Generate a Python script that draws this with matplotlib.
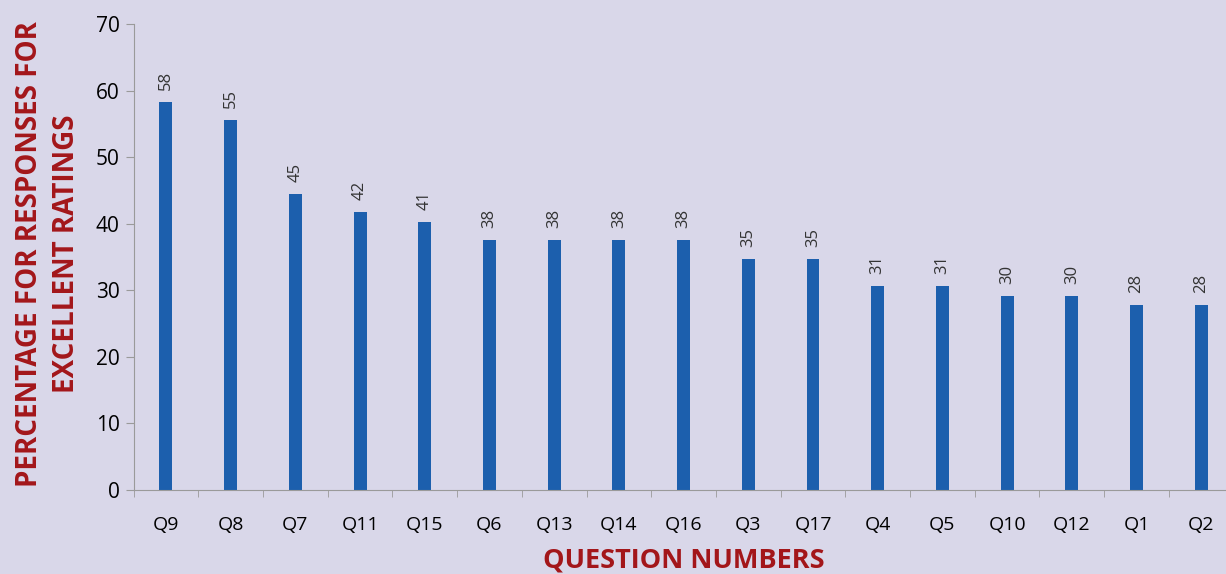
import numpy as np
import matplotlib.pyplot as plt

plt.rcParams["font.family"] = ["Open Sans", "DejaVu Sans"]

questions = ["Q9", "Q8", "Q7", "Q11", "Q15", "Q6", "Q13", "Q14", "Q16",
             "Q3", "Q17", "Q4", "Q5", "Q10", "Q12", "Q1", "Q2"]
percent = [58.3, 55.6, 44.4, 41.7, 40.3, 37.5, 37.5, 37.5, 37.5,
           34.7, 34.7, 30.6, 30.6, 29.2, 29.2, 27.8, 27.8]
labels = ["58", "55", "45", "42", "41", "38", "38", "38", "38",
          "35", "35", "31", "31", "30", "30", "28", "28"]

bg = "#d9d7e9"
red = "#a3161a"

fig = plt.figure(figsize=(12.26, 5.74), dpi=100, facecolor=bg)
ax = fig.add_axes([133.6/1226, 1-490/574, 1100/1226, 466/574])
ax.set_facecolor(bg)

x = np.arange(len(questions))
ax.bar(x, percent, width=0.2, color="#1c5fad")
for xi, v, lab in zip(x, percent, labels):
    ax.text(xi, v + 1.8, lab, rotation=90, ha="center", va="bottom",
            fontsize=12, color="#333333")

ax.set_xlim(-0.5, len(questions) - 0.5)
ax.set_ylim(0, 70)
ax.set_yticks(range(0, 71, 10))
ax.set_xticks(x)
ax.set_xticklabels(questions)
ax.set_xticks(np.arange(-0.5, len(questions), 1), minor=True)
ax.tick_params(axis="x", which="major", length=0, pad=19, labelsize=14)
ax.tick_params(axis="x", which="minor", length=5, color="#9a9a9a")
ax.tick_params(axis="y", length=6, color="#9a9a9a", labelsize=15, pad=4)

for s in ["top", "right"]:
    ax.spines[s].set_visible(False)
ax.spines["left"].set_color("#9a9a9a")
ax.spines["bottom"].set_color("#9a9a9a")

fig.text(48/1226, 1-254/574, "PERCENTAGE FOR RESPONSES FOR\nEXCELLENT RATINGS",
         rotation=90, ha="center", va="center", fontsize=20, fontweight="bold",
         color=red, linespacing=1.4)
fig.text(684/1226, 1-560/574, "QUESTION NUMBERS", ha="center", va="center",
         fontsize=19.5, fontweight="bold", color=red)

plt.savefig("out.png", dpi=100, facecolor=bg)
